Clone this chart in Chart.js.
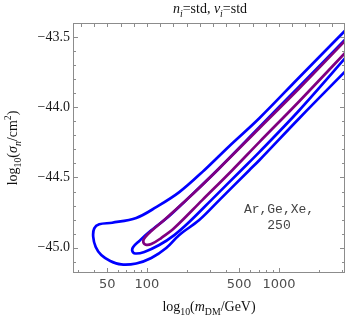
<!DOCTYPE html>
<html>
<head>
<meta charset="utf-8">
<script src="https://cdn.jsdelivr.net/npm/chart.js@4"></script>
<style>
  html, body { margin: 0; padding: 0; background: #fff; }
  #wrap { width: 346px; height: 318px; position: relative; }
</style>
</head>
<body>
<div id="wrap"><canvas id="myChart" width="346" height="318"></canvas></div>
<script>
// log10(m/GeV) and log10(sigma/cm^2) along each contour (closed loops)
const outerX = [3.533, 3.154, 2.851, 2.623, 2.434, 2.245, 2.070, 1.919, 1.737, 1.639, 1.601, 1.593, 1.612, 1.654, 1.722, 1.805, 1.919, 2.033, 2.146, 2.245, 2.396, 2.548, 2.775, 2.851, 3.154, 3.533];
const outerY = [-43.424, -43.786, -44.078, -44.277, -44.448, -44.604, -44.711, -44.788, -44.822, -44.833, -44.862, -44.922, -44.995, -45.052, -45.094, -45.119, -45.112, -45.073, -45.002, -44.909, -44.803, -44.661, -44.448, -44.377, -44.078, -43.715];
const midX = [3.533, 3.154, 2.851, 2.540, 2.305, 2.169, 2.017, 1.942, 1.896, 1.889, 1.911, 1.980, 2.093, 2.207, 2.320, 2.487, 2.714, 2.851, 3.154, 3.533];
const midY = [-43.488, -43.851, -44.142, -44.441, -44.654, -44.774, -44.888, -44.952, -44.995, -45.023, -45.041, -45.030, -44.981, -44.910, -44.817, -44.661, -44.448, -44.319, -44.021, -43.616];
const innerX = [3.533, 3.154, 2.851, 2.533, 2.298, 2.131, 2.033, 1.987, 1.972, 1.987, 2.033, 2.108, 2.207, 2.419, 2.646, 2.851, 3.154, 3.533];
const innerY = [-43.495, -43.865, -44.149, -44.448, -44.661, -44.803, -44.881, -44.924, -44.952, -44.977, -44.974, -44.931, -44.860, -44.661, -44.448, -44.248, -43.957, -43.581];

const massTicks = [50, 100, 500, 1000];
const massMinor = [30, 40, 60, 70, 80, 90, 200, 300, 400, 600, 700, 800, 900, 2000, 3000];
const sigmaTicks = [-45.0, -44.5, -44.0, -43.5];

function Points(xs, ys) {
  let ans = [];
  for (let i = 0; i < xs.length; i++) {
    ans.push({ x: xs[i], y: ys[i] });
  }
  return ans;
}

// draws a label made of pieces: {t, it (italic), sub, sup}
function Rich(ctx, segs, x, y, size) {
  const fam = "'Liberation Serif', 'DejaVu Serif', serif";
  const fontOf = (s) => {
    let sz = s.sub || s.sup ? size * 0.7 : size;
    return (s.it ? "italic " : "") + sz + "px " + fam;
  };
  let w = 0;
  segs.forEach((s) => {
    ctx.font = fontOf(s);
    w += ctx.measureText(s.t).width;
  });
  let cx = x - w / 2;
  ctx.textBaseline = "alphabetic";
  ctx.textAlign = "left";
  segs.forEach((s) => {
    ctx.font = fontOf(s);
    let dy = s.sub ? size * 0.3 : s.sup ? -size * 0.42 : 0;
    ctx.fillText(s.t, cx, y + dy);
    cx += ctx.measureText(s.t).width;
  });
}

const frame = {
  id: "frame",
  afterDraw(chart) {
    const { ctx, chartArea: a, scales } = chart;
    const xs = scales.x, ys = scales.y;
    ctx.save();
    ctx.strokeStyle = "#8c8c8c";
    ctx.lineWidth = 1;
    ctx.strokeRect(a.left + 0.5, a.top + 0.5, a.right - a.left - 1, a.bottom - a.top - 1);
    ctx.beginPath();
    // left / right
    for (let v = -45.1; v <= -43.39; v += 0.1) {
      let p = Math.round(ys.getPixelForValue(v)) + 0.5;
      let major = Math.abs(v * 2 - Math.round(v * 2)) < 0.01;
      let len = major ? 5 : 3;
      ctx.moveTo(a.left, p); ctx.lineTo(a.left + len, p);
      ctx.moveTo(a.right, p); ctx.lineTo(a.right - len, p);
    }
    // bottom
    massTicks.forEach((m) => {
      let p = Math.round(xs.getPixelForValue(Math.log10(m))) + 0.5;
      ctx.moveTo(p, a.bottom); ctx.lineTo(p, a.bottom - 5);
    });
    massMinor.forEach((m) => {
      let p = Math.round(xs.getPixelForValue(Math.log10(m))) + 0.5;
      ctx.moveTo(p, a.bottom); ctx.lineTo(p, a.bottom - 3);
    });
    // top
    for (let v = 1.5; v <= 3.5; v += 0.1) {
      let p = Math.round(xs.getPixelForValue(v)) + 0.5;
      ctx.moveTo(p, a.top); ctx.lineTo(p, a.top + 4);
    }
    ctx.stroke();

    ctx.fillStyle = "#111";
    Rich(ctx, [
      { t: "n", it: true }, { t: "i", it: true, sub: true }, { t: "=std, " },
      { t: "\u03bd", it: true }, { t: "i", it: true, sub: true }, { t: "=std" }
    ], 210, 13, 14);
    Rich(ctx, [
      { t: "log" }, { t: "10", sub: true }, { t: "(" }, { t: "m", it: true },
      { t: "DM", sub: true }, { t: "/GeV)" }
    ], 209, 311, 14);
    ctx.save();
    ctx.translate(17, 148);
    ctx.rotate(-Math.PI / 2);
    Rich(ctx, [
      { t: "log" }, { t: "10", sub: true }, { t: "(" }, { t: "\u03c3", it: true },
      { t: "n", it: true, sub: true }, { t: "/cm" }, { t: "2", sup: true }, { t: ")" }
    ], 0, 0, 14);
    ctx.restore();

    ctx.fillStyle = "#444";
    ctx.font = "13px 'Liberation Mono', 'DejaVu Sans Mono', monospace";
    ctx.textAlign = "center";
    ctx.textBaseline = "middle";
    ctx.fillText("Ar,Ge,Xe,", 279, 210);
    ctx.fillText("250", 279, 226);
    ctx.restore();
  },
};

const data = {
  datasets: [
    {
      label: "inner",
      data: Points(innerX, innerY),
      borderColor: "rgb(128, 0, 128)",
    },
    {
      label: "middle",
      data: Points(midX, midY),
      borderColor: "rgb(0, 0, 255)",
    },
    {
      label: "outer",
      data: Points(outerX, outerY),
      borderColor: "rgb(0, 0, 255)",
    },
  ],
};

const config = {
  type: "scatter",
  data: data,
  options: {
    responsive: false,
    animation: false,
    showLine: true,
    layout: { padding: { top: 23, right: 1, left: 0, bottom: 0 } },
    elements: {
      point: { radius: 0 },
      line: { borderWidth: 2.7, tension: 0.35, fill: false },
    },
    datasets: { scatter: { clip: 0 } },
    plugins: { legend: { display: false }, tooltip: { enabled: false } },
    scales: {
      x: {
        type: "linear",
        min: 1.44,
        max: 3.5,
        grid: { display: false, drawTicks: false },
        border: { display: false },
        afterBuildTicks: (s) => {
          s.ticks = massTicks.map((m) => ({ value: Math.log10(m) }));
        },
        afterFit: (s) => { s.height = 45; },
        ticks: {
          padding: 4,
          maxRotation: 0,
          autoSkip: false,
          color: "#4d4d4d",
          font: { family: "'DejaVu Sans', sans-serif", size: 13 },
          callback: (v) => String(Math.round(Math.pow(10, v))),
        },
      },
      y: {
        type: "linear",
        min: -45.18,
        max: -43.4,
        grid: { display: false, drawTicks: false },
        border: { display: false },
        afterBuildTicks: (s) => {
          s.ticks = sigmaTicks.map((v) => ({ value: v }));
        },
        afterFit: (s) => { s.width = 73; },
        ticks: {
          padding: 3,
          color: "#1a1a1a",
          font: { family: "'Liberation Serif', serif", size: 14 },
          callback: (v) => "\u2212" + Math.abs(v).toFixed(1),
        },
      },
    },
  },
  plugins: [frame],
};

new Chart(document.getElementById("myChart"), config);
</script>
</body>
</html>
